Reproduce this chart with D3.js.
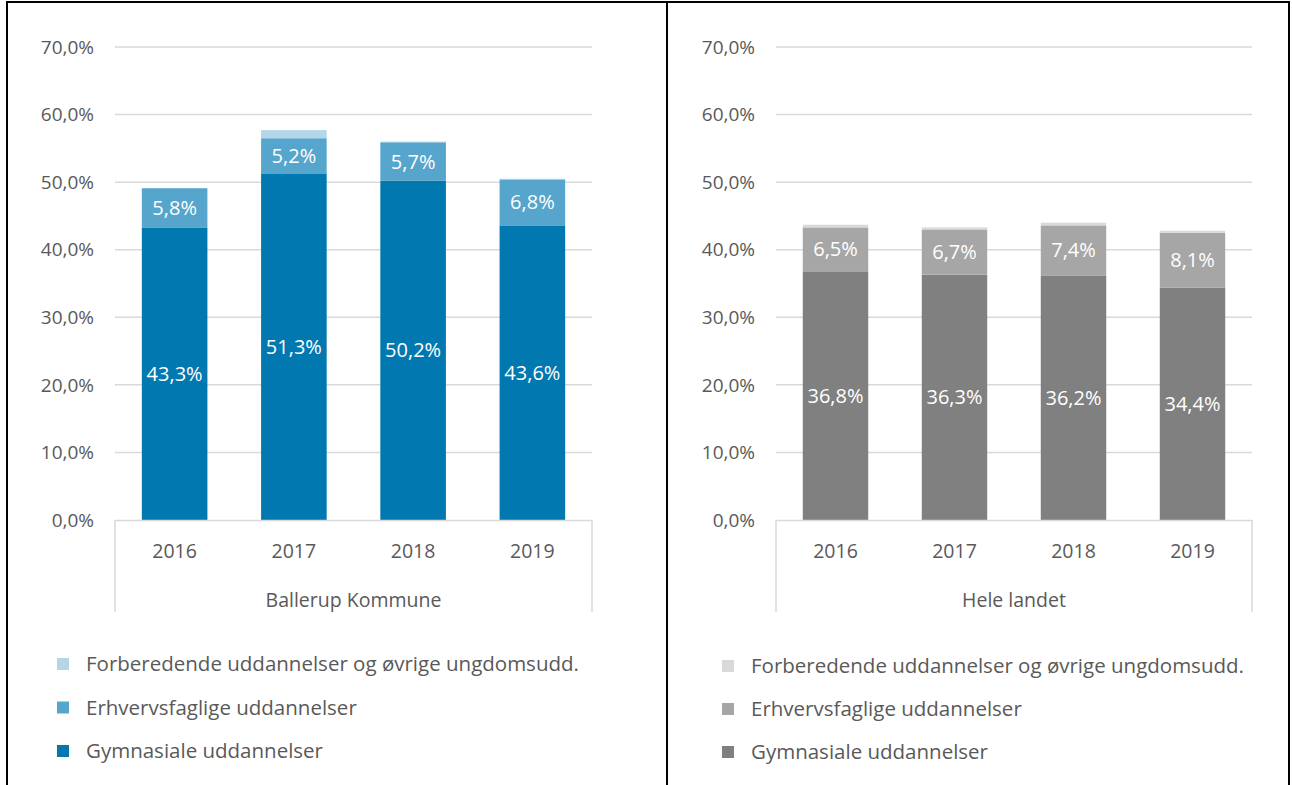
<!DOCTYPE html>
<html>
<head>
<meta charset="utf-8">
<script src="https://cdn.jsdelivr.net/npm/d3@7"></script>
<style>
  body { margin: 0; background: #fff; }
  text { font-family: 'Open Sans', 'Noto Sans', sans-serif; }
</style>
</head>
<body>
<svg id="chart" width="1292" height="785"></svg>
<script>
const years = ['2016', '2017', '2018', '2019']
const seriesNames = [
  'Gymnasiale uddannelser',
  'Erhvervsfaglige uddannelser',
  'Forberedende uddannelser og øvrige ungdomsudd.'
]
// Ballerup Kommune
const ballerupGym = [43.3, 51.3, 50.2, 43.6]
const ballerupErhv = [5.8, 5.2, 5.7, 6.8]
const ballerupForb = [0.0, 1.2, 0.1, 0.1]
// Hele landet
const landetGym = [36.8, 36.3, 36.2, 34.4]
const landetErhv = [6.5, 6.7, 7.4, 8.1]
const landetForb = [0.4, 0.3, 0.4, 0.3]
const yTicks = [0, 10, 20, 30, 40, 50, 60, 70]

const blues = ['#0179b0', '#56a5cc', '#b3d7e8']
const greys = ['#808080', '#a6a6a6', '#d9d9d9']

const svg = d3.select('#chart')
const fmt = v => v.toFixed(1).replace('.', ',') + '%'

// Outer frame and divider
svg.append('rect')
  .attr('x', 7).attr('y', 2).attr('width', 1282).attr('height', 800)
  .attr('fill', 'none').attr('stroke', '#000').attr('stroke-width', 2)
svg.append('line')
  .attr('x1', 667).attr('x2', 667).attr('y1', 2).attr('y2', 785)
  .attr('stroke', '#000').attr('stroke-width', 2)

const renderPanel = (opts) => {
  const { left, right, gym, erhv, forb, colors, group, legendX, legendY, legendGap } = opts
  const g = svg.append('g')

  const x = d3.scaleBand().domain(years).range([left, right]).paddingInner(0.45).paddingOuter(0.225)
  const y = d3.scaleLinear().domain([0, 70]).range([520, 47])

  // gridlines
  g.append('g').selectAll('line')
    .data(yTicks.filter(d => d > 0))
    .enter().append('line')
    .attr('x1', left).attr('x2', right)
    .attr('y1', d => y(d)).attr('y2', d => y(d))
    .attr('stroke', '#d9d9d9').attr('stroke-width', 1.5)

  // y tick labels
  g.append('g').selectAll('text')
    .data(yTicks)
    .enter().append('text')
    .attr('x', left - 21)
    .attr('y', d => y(d))
    .attr('dy', '0.35em')
    .attr('text-anchor', 'end')
    .attr('font-size', '19px')
    .attr('fill', '#595959')
    .text(d => fmt(d))

  // stacked bars
  const rows = years.map((yr, i) => ({ year: yr, gym: gym[i], erhv: erhv[i], forb: forb[i] }))
  const stack = d3.stack().keys(['gym', 'erhv', 'forb'])(rows)

  stack.forEach((layer, li) => {
    g.append('g').selectAll('rect')
      .data(layer)
      .enter().append('rect')
      .attr('x', d => x(d.data.year))
      .attr('width', x.bandwidth())
      .attr('y', d => y(d[1]))
      .attr('height', d => y(d[0]) - y(d[1]))
      .attr('fill', colors[li])
  })

  // data labels for first two series
  stack.slice(0, 2).forEach(layer => {
    g.append('g').selectAll('text')
      .data(layer)
      .enter().append('text')
      .attr('x', d => x(d.data.year) + x.bandwidth() / 2)
      .attr('y', d => y((d[0] + d[1]) / 2))
      .attr('dy', '0.35em')
      .attr('text-anchor', 'middle')
      .attr('font-size', '20px')
      .attr('fill', '#fff')
      .text(d => fmt(d[1] - d[0]))
  })

  // category axis box
  g.append('line')
    .attr('x1', left).attr('x2', right).attr('y1', 520.5).attr('y2', 520.5)
    .attr('stroke', '#d9d9d9').attr('stroke-width', 1.5)
  ;[left, right].forEach(px => {
    g.append('line')
      .attr('x1', px).attr('x2', px).attr('y1', 520).attr('y2', 612)
      .attr('stroke', '#d9d9d9').attr('stroke-width', 1.5)
  })
  g.append('g').selectAll('text')
    .data(years)
    .enter().append('text')
    .attr('x', d => x(d) + x.bandwidth() / 2)
    .attr('y', 551)
    .attr('dy', '0.35em')
    .attr('text-anchor', 'middle')
    .attr('font-size', '19.5px')
    .attr('fill', '#595959')
    .text(d => d)
  g.append('text')
    .attr('x', (left + right) / 2)
    .attr('y', 600)
    .attr('dy', '0.35em')
    .attr('text-anchor', 'middle')
    .attr('font-size', '19.5px')
    .attr('fill', '#595959')
    .text(group)

  // legend (reverse order: top is last series)
  const legendItems = seriesNames.map((name, i) => ({ name, color: colors[i] })).reverse()
  const lg = g.append('g').selectAll('g')
    .data(legendItems)
    .enter().append('g')
    .attr('transform', (d, i) => `translate(${legendX},${legendY + i * legendGap})`)
  lg.append('rect')
    .attr('x', 0).attr('y', -6).attr('width', 12).attr('height', 12)
    .attr('fill', d => d.color)
  lg.append('text')
    .attr('x', 29).attr('y', 0).attr('dy', '0.35em')
    .attr('font-size', '20.5px')
    .attr('fill', '#595959')
    .text(d => d.name)
}

renderPanel({
  left: 115, right: 592,
  gym: ballerupGym, erhv: ballerupErhv, forb: ballerupForb,
  colors: blues, group: 'Ballerup Kommune',
  legendX: 57, legendY: 664, legendGap: 43.5
})

renderPanel({
  left: 776, right: 1252,
  gym: landetGym, erhv: landetErhv, forb: landetForb,
  colors: greys, group: 'Hele landet',
  legendX: 722, legendY: 666, legendGap: 43
})
</script>
</body>
</html>
